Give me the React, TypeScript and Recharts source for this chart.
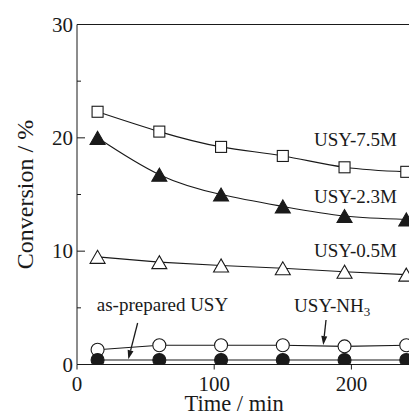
import React from 'react';
import { LineChart, Line, XAxis, YAxis, ReferenceLine, ReferenceDot, Label } from 'recharts';

const times = [15, 60, 105, 150, 195, 240];
const usy75 = [22.3, 20.55, 19.2, 18.4, 17.4, 17.0];
const usy23 = [20.0, 16.75, 15.0, 13.95, 13.1, 12.8];
const usy05 = [9.5, 9.03, 8.74, 8.49, 8.19, 7.93];
const usyNH3 = [1.3, 1.7, 1.7, 1.7, 1.6, 1.7];
const asPrepared = [0.4, 0.4, 0.4, 0.4, 0.4, 0.4];
const xTicks = [0, 100, 200];
const yTicks = [0, 5, 10, 15, 20, 25, 30];

const data = times.map((t, i) => ({
  t,
  a: usy75[i],
  b: usy23[i],
  c: usy05[i],
  d: usyNH3[i],
  e: asPrepared[i],
}));

const FONT = '"Liberation Serif", "Times New Roman", serif';
const INK = '#1a1a1a';

const Square = (p: any) => {
  const { cx, cy, index } = p;
  if (cx == null || cy == null) return <g key={index} />;
  const s = 11;
  return <rect key={index} x={cx - s / 2} y={cy - s / 2} width={s} height={s} fill="#fff" stroke={INK} strokeWidth={1.1} />;
};

const makeTri = (fill: string) => (p: any) => {
  const { cx, cy, index } = p;
  if (cx == null || cy == null) return <g key={index} />;
  const w = 15, h = 13;
  return (
    <polygon
      key={index}
      points={`${cx},${cy - h / 2} ${cx - w / 2},${cy + h / 2} ${cx + w / 2},${cy + h / 2}`}
      fill={fill}
      stroke={INK}
      strokeWidth={1.1}
      strokeLinejoin="miter"
    />
  );
};

const makeCircle = (fill: string) => (p: any) => {
  const { cx, cy, index } = p;
  if (cx == null || cy == null) return <g key={index} />;
  return <circle key={index} cx={cx} cy={cy} r={6.5} fill={fill} stroke={INK} strokeWidth={1.1} />;
};

const YTick = (props: any) => {
  const { x, y, payload } = props;
  const major = payload.value % 10 === 0;
  return (
    <g>
      <line x1={x} x2={x + (major ? 8 : 4)} y1={y} y2={y} stroke={INK} strokeWidth={1} />
      {major && (
        <text x={x - 4} y={y} dy="0.34em" textAnchor="end" fontSize={21} fontFamily={FONT} fill={INK}>
          {payload.value}
        </text>
      )}
    </g>
  );
};

const XTick = (props: any) => {
  const { x, y, payload } = props;
  return (
    <g>
      <line x1={x} x2={x} y1={y} y2={y + 5} stroke={INK} strokeWidth={1} />
      <text x={x} y={y + 26.5} textAnchor="middle" fontSize={21} fontFamily={FONT} fill={INK}>
        {payload.value}
      </text>
    </g>
  );
};

const YTitle = (p: any) => {
  const vb = p.viewBox || { x: 0, y: 0, width: 0, height: 0 };
  const cx = vb.x + 33;
  const cy = vb.y + vb.height / 2;
  return (
    <text x={cx} y={cy} transform={`rotate(-90, ${cx}, ${cy})`} textAnchor="middle" fontSize={24} fontFamily={FONT} fill={INK}>
      Conversion / %
    </text>
  );
};

const XTitle = (p: any) => {
  const vb = p.viewBox || { x: 0, y: 0, width: 0, height: 0 };
  return (
    <text x={vb.x + vb.width * 0.458} y={vb.y + 46} textAnchor="middle" fontSize={22.5} fontFamily={FONT} fill={INK}>
      Time / min
    </text>
  );
};

const Arrow = (p: any) => {
  const { x1, y1, x2, y2 } = p;
  if (x1 == null) return <g />;
  const dx = x2 - x1, dy = y2 - y1;
  const len = Math.sqrt(dx * dx + dy * dy) || 1;
  const ux = dx / len, uy = dy / len;
  const hl = 9, hw = 3;
  const bx = x2 - ux * hl, by = y2 - uy * hl;
  return (
    <g>
      <line x1={x1} y1={y1} x2={bx} y2={by} stroke={INK} strokeWidth={1.3} />
      <polygon points={`${x2},${y2} ${bx - uy * hw},${by + ux * hw} ${bx + uy * hw},${by - ux * hw}`} fill={INK} />
    </g>
  );
};

const textShape = (content: React.ReactNode, anchor: string = 'middle') => (p: any) => (
  <text x={p.cx} y={p.cy} textAnchor={anchor} fontSize={19} fontFamily={FONT} fill={INK}>
    {content}
  </text>
);

export default function App() {
  return (
    <div style={{ position: 'fixed', left: 0, top: 0, width: 409, height: 413, overflow: 'hidden', background: '#fff' }}>
      <LineChart width={420} height={413} data={data} margin={{ top: 24.5, right: 0, bottom: 0, left: 0 }}>
        <XAxis
          dataKey="t"
          type="number"
          domain={[0, 250]}
          ticks={xTicks}
          interval={0}
          tickSize={0}
          tickMargin={0}
          tickLine={false}
          tick={<XTick />}
          axisLine={{ stroke: INK, strokeWidth: 1 }}
          height={48.5}
          allowDataOverflow
        >
          <Label content={XTitle} />
        </XAxis>
        <YAxis
          type="number"
          domain={[0, 30]}
          ticks={yTicks}
          interval={0}
          tickSize={0}
          tickMargin={0}
          tickLine={false}
          tick={<YTick />}
          axisLine={{ stroke: INK, strokeWidth: 1 }}
          width={77}
          allowDataOverflow
        >
          <Label content={YTitle} />
        </YAxis>
        <ReferenceLine y={30} stroke={INK} strokeWidth={1} />

        <Line dataKey="a" type="natural" stroke={INK} strokeWidth={1.1} dot={Square} isAnimationActive={false} />
        <Line dataKey="b" type="natural" stroke={INK} strokeWidth={1.1} dot={makeTri(INK)} isAnimationActive={false} />
        <Line dataKey="c" type="linear" stroke={INK} strokeWidth={1.1} dot={makeTri('#fff')} isAnimationActive={false} />
        <Line dataKey="d" type="linear" stroke={INK} strokeWidth={1.1} dot={makeCircle('#fff')} isAnimationActive={false} />
        <Line dataKey="e" type="linear" stroke={INK} strokeWidth={1.1} dot={makeCircle(INK)} isAnimationActive={false} />

        <ReferenceDot x={203} y={19.28} r={0} ifOverflow="visible" shape={textShape('USY-7.5M')} />
        <ReferenceDot x={203} y={14.25} r={0} ifOverflow="visible" shape={textShape('USY-2.3M')} />
        <ReferenceDot x={203} y={9.49} r={0} ifOverflow="visible" shape={textShape('USY-0.5M')} />
        <ReferenceDot x={62.3} y={4.68} r={0} ifOverflow="visible" shape={textShape('as-prepared USY')} />
        <ReferenceDot
          x={186}
          y={4.63}
          r={0}
          ifOverflow="visible"
          shape={textShape(
            <>
              USY-NH<tspan fontSize={13} dy={4}>3</tspan>
            </>
          )}
        />
        <ReferenceLine segment={[{ x: 44.2, y: 3.66 }, { x: 37.4, y: 0.46 }]} ifOverflow="visible" shape={Arrow} />
        <ReferenceLine segment={[{ x: 181.5, y: 3.93 }, { x: 179.5, y: 1.72 }]} ifOverflow="visible" shape={Arrow} />
      </LineChart>
    </div>
  );
}
